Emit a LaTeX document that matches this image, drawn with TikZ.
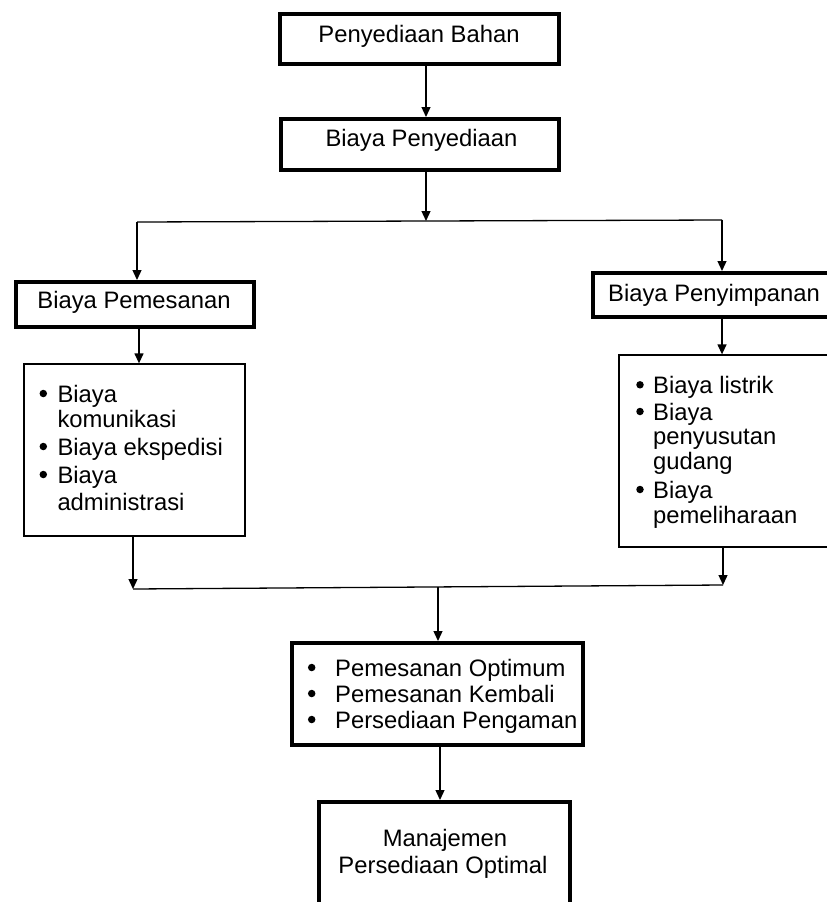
\documentclass[tikz,border=0pt]{standalone}
\usepackage{fontspec}
\setmainfont{Liberation Sans}
\usetikzlibrary{arrows.meta}
\begin{document}
\begin{tikzpicture}[x=1pt,y=-1pt,
  box/.style={draw=black, line width=4pt, inner sep=0pt},
  listbox/.style={draw=black, line width=1.3pt, inner sep=0pt},
  arr/.style={line width=1.3pt, -{Triangle[length=10pt,width=9pt]}},
  conn/.style={line width=1.3pt},
  txt/.style={inner sep=0pt, anchor=base west, font=\fontsize{23.8}{27}\selectfont},
  ctxt/.style={inner sep=0pt, anchor=base, font=\fontsize{23.8}{27}\selectfont},
  bul/.style={circle, fill=black, inner sep=0pt, minimum size=7.5pt}]
\useasboundingbox (0,0) rectangle (827,902);
\clip (0,0) rectangle (827,902);

% boxes
\node[box, minimum width=279pt, minimum height=50pt] (b1) at (419.5,39) {};
\node[box, minimum width=278pt, minimum height=51pt] (b2) at (420,144.5) {};
\node[box, minimum width=238pt, minimum height=45pt] (b3) at (135,304.5) {};
\node[box, minimum width=242pt, minimum height=44pt] (b4) at (714,295) {};
\node[listbox, minimum width=221pt, minimum height=172pt] (l1) at (134.5,450) {};
\node[listbox, minimum width=221pt, minimum height=192pt] (l2) at (729.5,451) {};
\node[box, minimum width=291pt, minimum height=102pt] (b5) at (437.5,694) {};
\node[box, minimum width=251pt, minimum height=130pt] (b6) at (444.5,867) {};

% texts
\node[ctxt] (t1) at (419,42) {Penyediaan Bahan};
\node[ctxt] (t2) at (421.5,146.7) {Biaya Penyediaan};
\node[ctxt] (t3) at (134,308.3) {Biaya Pemesanan};
\node[ctxt] (t4) at (714,301) {Biaya Penyimpanan};

\node[bul] (la0) at (43.3,393.5) {};
\node[txt] (la) at (57.3,402) {Biaya};
\node[txt] (lb) at (57.3,427) {komunikasi};
\node[bul] (lc0) at (43.3,446.5) {};
\node[txt] (lc) at (57.3,455) {Biaya ekspedisi};
\node[bul] (ld0) at (43.3,474.5) {};
\node[txt] (ld) at (57.3,483) {Biaya};
\node[txt] (le) at (57.3,510) {administrasi};

\node[bul] (ra0) at (640,384.8) {};
\node[txt] (ra) at (653,393.3) {Biaya listrik};
\node[bul] (rb0) at (640,411.5) {};
\node[txt] (rb) at (653,420) {Biaya};
\node[txt] (rc) at (653,444) {penyusutan};
\node[txt] (rd) at (653,469) {gudang};
\node[bul] (re0) at (640,489.5) {};
\node[txt] (re) at (653,498) {Biaya};
\node[txt] (rf) at (653,523) {pemeliharaan};

\node[bul] (ma0) at (311.7,667.5) {};
\node[txt] (ma) at (335,676) {Pemesanan Optimum};
\node[bul] (mb0) at (311.7,693.5) {};
\node[txt] (mb) at (335,702) {Pemesanan Kembali};
\node[bul] (mc0) at (311.7,719.5) {};
\node[txt] (mc) at (335,728) {Persediaan Pengaman};

\node[ctxt] (z1) at (445,846.7) {Manajemen};
\node[ctxt] (z2) at (443,873.3) {Persediaan Optimal};

% connectors
\coordinate (xa) at (426,0);
\draw[arr] (b1.south -| xa) -- (b2.north -| xa);
\coordinate (j1) at (426,221);
\draw[arr] (b2.south -| j1) -- (j1);
\coordinate (jl) at (137,222);
\coordinate (jr) at (722,220);
\draw[conn] (jl) -- (jr);
\draw[arr] (jl) -- (b3.north -| jl);
\draw[arr] (jr) -- (b4.north -| jr);
\coordinate (xb) at (139,0);
\draw[arr] (b3.south -| xb) -- (l1.north -| xb);
\coordinate (xc) at (722,0);
\draw[arr] (b4.south -| xc) -- (l2.north -| xc);
\coordinate (kl) at (133,589);
\coordinate (kr) at (723,585);
\draw[arr] (l1.south -| kl) -- (kl);
\draw[arr] (l2.south -| kr) -- (kr);
\draw[conn] (kl) -- (kr);
\coordinate (km) at (438,587);
\draw[arr] (km) -- (b5.north -| km);
\coordinate (xd) at (440,0);
\draw[arr] (b5.south -| xd) -- (b6.north -| xd);
\end{tikzpicture}
\end{document}
